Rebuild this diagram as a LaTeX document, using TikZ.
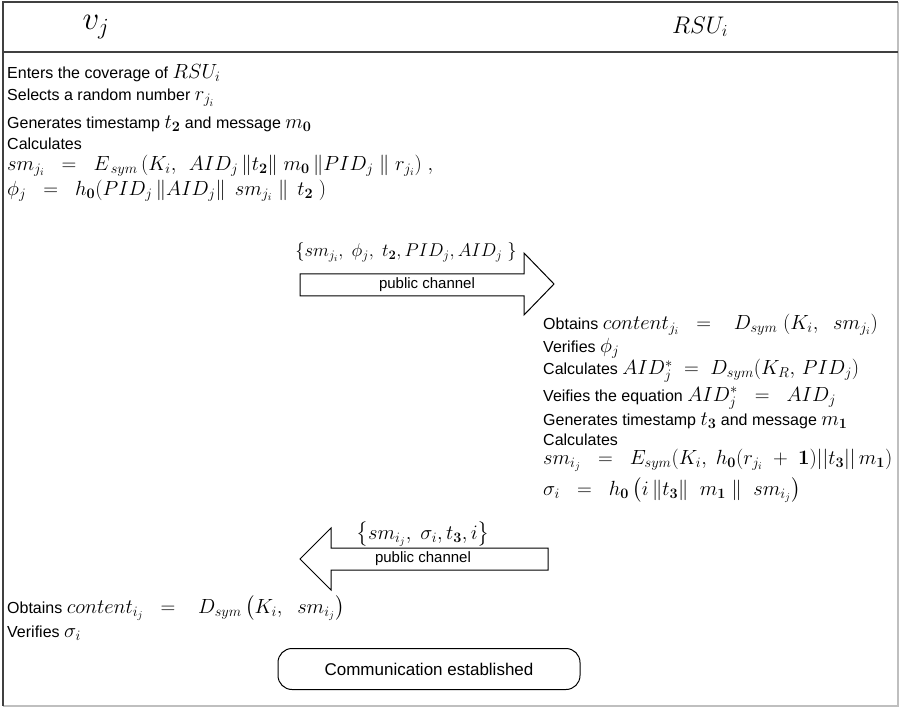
\RequirePackage{fix-cm}
\documentclass[tikz,border=0pt]{standalone}
\usepackage{amsmath,amssymb}
\usepackage[no-math]{fontspec}
\setmainfont{Liberation Sans}
\usetikzlibrary{positioning}
% text at 16pt, formulas set larger
\DeclareMathSizes{16}{20.5}{14.4}{10.5}

\begin{document}
\begin{tikzpicture}[
  x=1pt, y=-1pt,
  txt/.style={anchor=west, inner sep=0pt, font=\fontsize{16}{19}\selectfont},
  small/.style={inner sep=0pt, font=\fontsize{15}{18}\selectfont},
  chan/.style={draw, line width=1pt, line join=miter},
  frame/.style={line width=1.6pt, draw=black!75},
  done/.style={draw, line width=1pt, rounded corners=14pt, minimum width=302pt, minimum height=41pt, font=\fontsize{17}{20}\selectfont}
]
\useasboundingbox (0,0) rectangle (899,708);

% Frame and header
\draw[gray!50, line width=1.2pt] (3,706) -- (898,706) -- (898,2);
\draw[frame] (898,2) -- (3,2) -- (3,706);
\draw[frame] (3,52) -- (898,52);
\node[inner sep=0pt, font=\fontsize{33}{35}\selectfont] (vj) at (96,27) {$v_j$};
\node[inner sep=0pt, font=\fontsize{24}{26}\selectfont] (rsu) at (700,27) {$RSU_i$};

% Vehicle side
\node[txt] (enter) at (7,73) {Enters the coverage of $RSU_i$};
\node[txt] (rand) at (7,98) {Selects a random number $r_{j_i}$};
\node[txt] (gen2) at (7,124) {Generates timestamp $t_{\mathbf{2}}$ and message $m_{\mathbf{0}}$};
\node[txt] (calc1) at (7,144) {Calculates};
\node[txt] (smji) at (7,166) {$sm_{j_i} \;\;=\;\; E_{\,sym}\,(K_i,\;\, AID_j\,\|t_{\mathbf{2}}\|\; m_{\mathbf{0}}\,\|PID_j\;\|\; r_{j_i})\;,$};
\node[txt] (phij) at (7,191) {$\phi_j \;\;=\;\; h_{\mathbf{0}}(PID_j\,\|AID_j\|\;\, sm_{j_i}\;\|\;\, t_{\mathbf{2}}\;)$};

% First message
\draw[chan] (300,274) -- (524,274) -- (524,253) -- (554,284) -- (524,315) -- (524,296) -- (300,296) -- cycle;
\node[inner sep=0pt, font=\fontsize{18.5}{20}\selectfont] (msg1) at (406,252) {$\{sm_{j_i},\; \phi_j,\; t_{\mathbf{2}}, PID_j, AID_j\;\}$};
\node[small] (pub1) at (427,285) {public channel};

% RSU side
\node[txt] (obt1) at (543,325) {Obtains $content_{j_i} \;\;=\;\;\; D_{sym}\;(K_i,\;\; sm_{j_i})$};
\node[txt] (ver1) at (543,348) {Verifies $\phi_j$};
\node[txt] (calc2) at (543,371) {Calculates $AID_j^{*} \;=\; D_{sym}(K_R,\, PID_j)$};
\node[txt] (eqn) at (543,398) {Veifies the equation $AID_j^{*} \;\;=\;\; AID_j$};
\node[txt] (gen3) at (543,421) {Generates timestamp $t_{\mathbf{3}}$ and message $m_{\mathbf{1}}$};
\node[txt] (calc3) at (543,440) {Calculates};
\node[txt] (smij) at (543,460) {$sm_{i_j} \;\;=\;\; E_{sym}(K_i,\; h_{\mathbf{0}}(r_{j_i} \;+\; \mathbf{1})||t_{\mathbf{3}}||\, m_{\mathbf{1}})$};
\node[txt] (sigi) at (543,490) {$\sigma_i \;\;=\;\; h_{\mathbf{0}}\,\bigl(i\,\|t_{\mathbf{3}}\|\;\; m_{\mathbf{1}}\;\|\;\; sm_{i_j}\bigr)$};

% Second message
\draw[chan] (548,548) -- (331,548) -- (331,528) -- (300,559) -- (331,590) -- (331,570) -- (548,570) -- cycle;
\node[inner sep=0pt, font=\fontsize{20.5}{22}\selectfont] (msg2) at (423,534) {$\left\{sm_{i_j},\; \sigma_i, t_{\mathbf{3}}, i\right\}$};
\node[small] (pub2) at (423,559) {public channel};

% Vehicle side again
\node[txt] (obt2) at (7,608) {Obtains $content_{i_j} \;\;=\;\;\; D_{sym}\left(K_i,\;\; sm_{i_j}\right)$};
\node[txt] (ver2) at (7,633) {Verifies $\sigma_i$};

\node[done] (est) at (429,669) {Communication established};

\end{tikzpicture}
\end{document}
